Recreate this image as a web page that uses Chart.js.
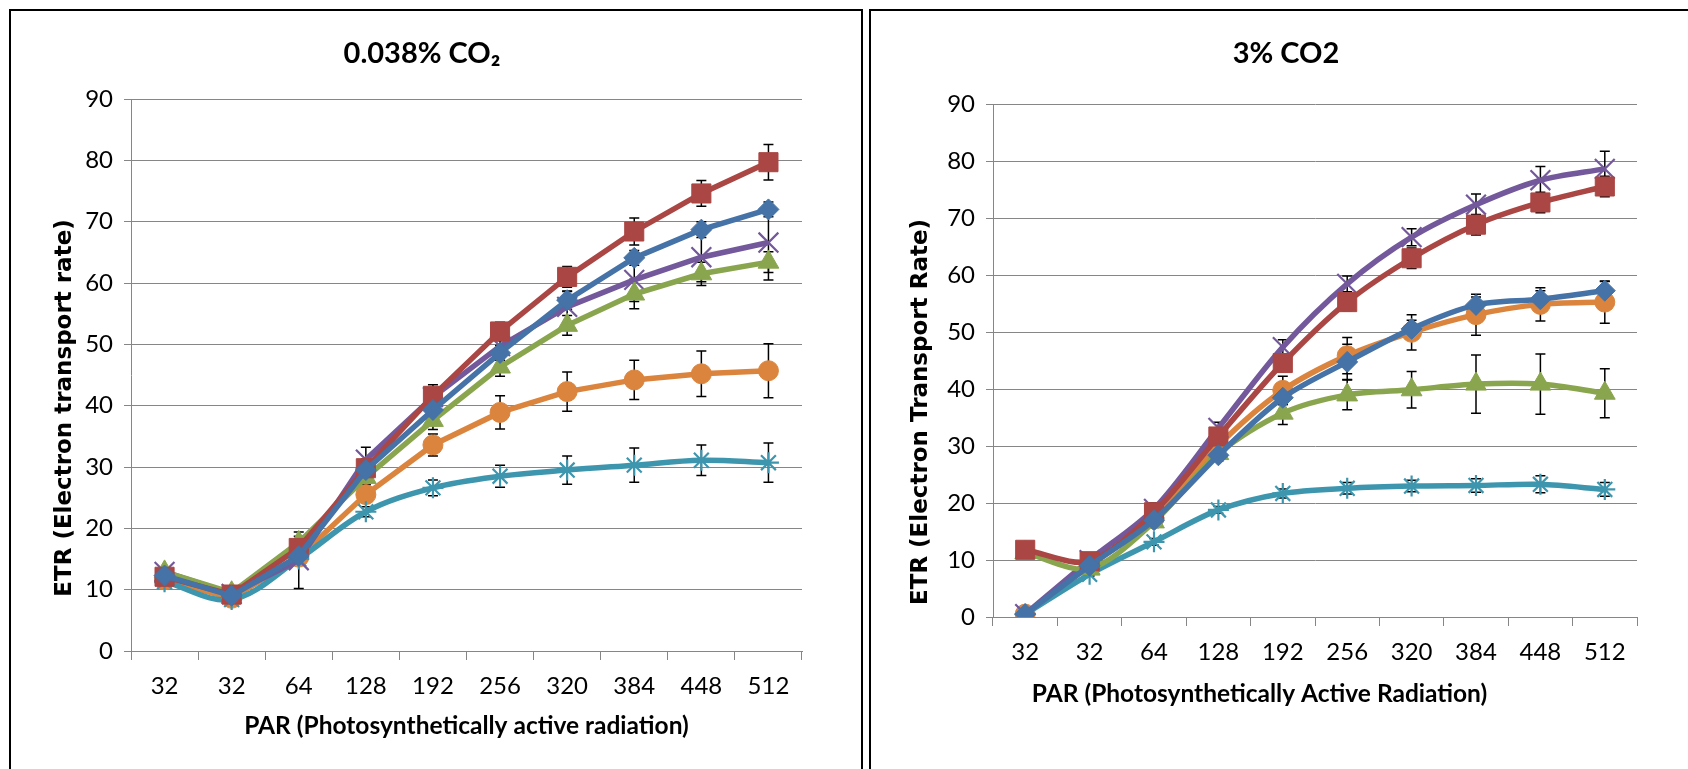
<!DOCTYPE html>
<html>
<head>
<meta charset="utf-8">
<script src="https://cdn.jsdelivr.net/npm/chart.js@4.4.0/dist/chart.umd.min.js"></script>
<style>
html,body{margin:0;padding:0;background:#fff;width:1688px;height:769px;overflow:hidden;}
.box{position:absolute;border:2px solid #000;box-sizing:border-box;}
#boxL{left:9px;top:9px;width:854px;height:780px;}
#boxR{left:869px;top:9px;width:840px;height:780px;}
canvas{position:absolute;left:0;top:0;}
</style>
</head>
<body>
<div class="box" id="boxL"><canvas id="cL" width="850" height="758"></canvas></div>
<div class="box" id="boxR"><canvas id="cR" width="817" height="758"></canvas></div>
<script>
// ---------- data ----------
const categories = ['32', '32', '64', '128', '192', '256', '320', '384', '448', '512'];
const yTicksMin = 0, yTicksMax = 90, yTicksStep = 10;

// Left chart: 0.038% CO2
const leftBlue   = [12.3, 9.0, 15.5, 29.5, 39.3, 48.6, 57.2, 64.1, 68.7, 72.0];
const leftRed    = [12.1, 9.2, 16.8, 29.8, 41.6, 52.1, 61.0, 68.4, 74.6, 79.7];
const leftGreen  = [12.9, 9.5, 17.7, 28.3, 37.6, 46.3, 53.1, 58.2, 61.5, 63.4];
const leftPurple = [12.9, 9.3, 14.8, 31.2, 41.4, 49.7, 56.1, 60.5, 64.2, 66.6];
const leftCyan   = [11.3, 8.4, 15.0, 22.7, 26.6, 28.5, 29.5, 30.3, 31.1, 30.7];
const leftOrange = [11.6, 8.6, 15.3, 25.5, 33.6, 38.9, 42.3, 44.2, 45.2, 45.7];

const leftBlueErr   = [0.5, 0.5, 1.0, 1.0, 1.0, 1.2, 1.5, 1.2, 1.3, 1.2];
const leftRedErr    = [0.5, 0.5, 1.0, 1.5, 1.8, 1.5, 1.7, 2.2, 2.1, 2.9];
const leftGreenErr  = [0.5, 0.5, 1.0, 1.2, 1.5, 1.5, 1.6, 2.4, 1.9, 1.7];
const leftPurpleErr = [0.5, 0.5, 4.6, 2.0, 1.5, 1.5, 2.5, 3.5, 4.0, 6.1];
const leftCyanErr   = [0.5, 0.5, 1.0, 0.8, 1.3, 1.8, 2.3, 2.8, 2.5, 3.2];
const leftOrangeErr = [0.5, 0.5, 1.0, 1.0, 1.8, 2.7, 3.2, 3.2, 3.7, 4.4];

// Right chart: 3% CO2
const rightBlue   = [0.5, 9.0, 17.0, 28.4, 38.5, 44.8, 50.6, 54.8, 55.8, 57.3];
const rightRed    = [11.8, 9.8, 18.4, 31.7, 44.6, 55.3, 63.0, 68.9, 72.8, 75.6];
const rightGreen  = [11.3, 8.5, 16.7, 28.7, 35.8, 39.0, 39.9, 40.9, 40.9, 39.3];
const rightPurple = [0.5, 10.0, 19.0, 33.2, 47.4, 58.5, 66.7, 72.4, 76.7, 78.7];
const rightCyan   = [0.5, 7.5, 13.2, 18.8, 21.7, 22.6, 23.0, 23.1, 23.3, 22.4];
const rightOrange = [0.5, 9.0, 17.3, 30.1, 39.8, 45.9, 50.0, 53.1, 54.9, 55.3];

const rightBlueErr   = [0.3, 0.5, 1.0, 1.0, 1.2, 3.1, 1.5, 1.4, 1.5, 1.6];
const rightRedErr    = [0.5, 0.5, 1.0, 1.0, 1.5, 1.5, 1.8, 1.8, 1.8, 1.8];
const rightGreenErr  = [0.5, 0.5, 1.0, 1.0, 2.0, 2.6, 3.2, 5.1, 5.3, 4.3];
const rightPurpleErr = [0.3, 0.5, 1.0, 1.0, 1.3, 1.4, 1.5, 1.9, 2.4, 3.1];
const rightCyanErr   = [0.3, 0.3, 0.6, 0.6, 0.8, 1.0, 1.0, 1.2, 1.5, 1.2];
const rightOrangeErr = [0.3, 0.5, 1.0, 1.0, 2.5, 3.2, 3.1, 3.6, 2.9, 3.7];

// ---------- styles ----------
const FONT = 'Lato, "Noto Sans", "DejaVu Sans", sans-serif';
const YFONT = '"DejaVu Sans", Verdana, sans-serif';
const GRID = '#868686';
const C = {blue:'#4572A7', red:'#AA4643', green:'#89A54E', purple:'#73599B', cyan:'#3D96AE', orange:'#DB843D'};

const errorBars = {
  id: 'errorBars',
  beforeDatasetsDraw(chart) {
    const ctx = chart.ctx, ys = chart.scales.y;
    ctx.save();
    ctx.strokeStyle = '#000';
    ctx.lineWidth = 1.5;
    chart.data.datasets.forEach((ds, i) => {
      if (!ds.errors) return;
      const meta = chart.getDatasetMeta(i);
      ds.data.forEach((v, j) => {
        const e = ds.errors[j];
        if (!e) return;
        const px = meta.data[j].x;
        const t = ys.getPixelForValue(v + e), b = ys.getPixelForValue(v - e);
        ctx.beginPath();
        ctx.moveTo(px, t); ctx.lineTo(px, b);
        ctx.moveTo(px - 5, t); ctx.lineTo(px + 5, t);
        ctx.moveTo(px - 5, b); ctx.lineTo(px + 5, b);
        ctx.stroke();
      });
    });
    ctx.restore();
  }
};

// chart title and axis titles, placed like in the original figure
const chartTexts = {
  id: 'chartTexts',
  afterDraw(chart, args, o) {
    const ctx = chart.ctx;
    ctx.save();
    ctx.fillStyle = '#000';
    ctx.textAlign = 'center';
    ctx.textBaseline = 'middle';
    ctx.font = 'bold 29px ' + FONT;
    ctx.fillText(o.title, o.titleX, o.titleY);
    ctx.font = 'bold 24.5px ' + FONT;
    ctx.fillText(o.xTitle, o.xTitleX, o.xTitleY);
    ctx.translate(o.yTitleX, o.yTitleY);
    ctx.rotate(-Math.PI / 2);
    ctx.font = 'bold 23px ' + YFONT;
    ctx.fillText(o.yTitle, 0, 0);
    ctx.restore();
  }
};

function ds(label, data, errs, color, style, radius, tension, bw) {
  return {
    label, data, errors: errs,
    borderColor: color, backgroundColor: color,
    borderWidth: 5.5, tension: tension,
    pointStyle: style, pointRadius: radius, pointHoverRadius: radius,
    pointBackgroundColor: color, pointBorderColor: color, pointBorderWidth: bw
  };
}

function makeChart(id, cfg) {
  return new Chart(document.getElementById(id), {
    type: 'line',
    data: { labels: categories, datasets: cfg.datasets },
    plugins: [errorBars, chartTexts],
    options: {
      responsive: false, animation: false,
      layout: { padding: { left: 0, right: cfg.padRight, top: cfg.padTop, bottom: 0 } },
      plugins: {
        legend: { display: false },
        tooltip: { enabled: false },
        title: { display: false },
        chartTexts: cfg.texts
      },
      scales: {
        x: {
          type: 'category', offset: true,
          grid: { offset: true, drawOnChartArea: false, drawTicks: true, tickLength: 9, color: GRID, lineWidth: 1 },
          border: { color: GRID, width: 1 },
          ticks: { color: '#000', font: { family: FONT, size: 24 }, padding: 12, autoSkip: false, maxRotation: 0 },
          afterFit(s) { s.height = cfg.xHeight; }
        },
        y: {
          min: yTicksMin, max: yTicksMax,
          grid: { color: GRID, lineWidth: 1, tickLength: 7, drawTicks: true },
          border: { color: GRID, width: 1 },
          ticks: { stepSize: yTicksStep, color: '#000', font: { family: FONT, size: 24 }, padding: 11 },
          afterFit(s) { s.width = cfg.yWidth; }
        }
      }
    }
  });
}

makeChart('cL', {
  padRight: 59, padTop: 88, xHeight: 118, yWidth: 120,
  texts: {
    title: '0.038% CO\u2082', titleX: 411, titleY: 43,
    xTitle: 'PAR (Photosynthetically active radiation)', xTitleX: 455.5, xTitleY: 715,
    yTitle: 'ETR (Electron transport rate)', yTitleX: 54, yTitleY: 397
  },
  datasets: [
    ds('Series1', leftBlue,   leftBlueErr,   C.blue,   'rectRot',  10.5, 0,   1),
    ds('Series2', leftRed,    leftRedErr,    C.red,    'rect',     13.5, 0,   1),
    ds('Series3', leftGreen,  leftGreenErr,  C.green,  'triangle', 12,   0,   1),
    ds('Series4', leftPurple, leftPurpleErr, C.purple, 'crossRot', 14,   0,   2.2),
    ds('Series5', leftCyan,   leftCyanErr,   C.cyan,   'star',     10.5, 0.35,2.2),
    ds('Series6', leftOrange, leftOrangeErr, C.orange, 'circle',   10,   0,   1)
  ]
});

makeChart('cR', {
  padRight: 51, padTop: 93.5, xHeight: 152, yWidth: 122,
  texts: {
    title: '3% CO2', titleX: 415, titleY: 43,
    xTitle: 'PAR (Photosynthetically Active Radiation)', xTitleX: 388.5, xTitleY: 683,
    yTitle: 'ETR (Electron Transport Rate)', yTitleX: 50, yTitleY: 401
  },
  datasets: [
    ds('Series1', rightBlue,   rightBlueErr,   C.blue,   'rectRot',  10.5, 0.3, 1),
    ds('Series2', rightRed,    rightRedErr,    C.red,    'rect',     13.5, 0.3, 1),
    ds('Series3', rightGreen,  rightGreenErr,  C.green,  'triangle', 12,   0.3, 1),
    ds('Series4', rightPurple, rightPurpleErr, C.purple, 'crossRot', 14,   0.3, 2.2),
    ds('Series5', rightCyan,   rightCyanErr,   C.cyan,   'star',     10.5, 0.3, 2.2),
    ds('Series6', rightOrange, rightOrangeErr, C.orange, 'circle',   10,   0.3, 1)
  ]
});
</script>
</body>
</html>
